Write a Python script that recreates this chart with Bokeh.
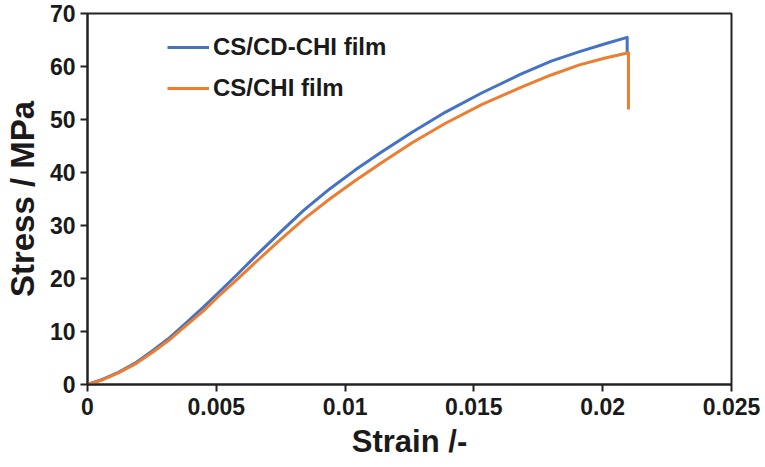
from bokeh.plotting import figure
from bokeh.models import FixedTicker, Legend, LegendItem, Range1d
from bokeh.embed import file_html
from bokeh.resources import INLINE

# Tensile test curves: strain (-) vs. stress (MPa)
strain_cd = [0, 0.0006, 0.0012, 0.0019, 0.0025, 0.0032, 0.0038, 0.0045, 0.0051,
             0.0058, 0.0066, 0.0075, 0.0084, 0.0094, 0.0104, 0.0114, 0.0126,
             0.0139, 0.0153, 0.0168, 0.0180, 0.0191, 0.0201, 0.02095, 0.02095]
stress_cd = [0, 1.0, 2.3, 4.2, 6.3, 8.9, 11.5, 14.6, 17.4,
             20.7, 24.6, 28.8, 32.9, 36.9, 40.5, 43.8, 47.6,
             51.4, 55.0, 58.5, 61.0, 62.8, 64.3, 65.5, 62.6]

strain_chi = [0, 0.0006, 0.0012, 0.0019, 0.0025, 0.0032, 0.0038, 0.0045, 0.0051,
              0.0058, 0.0066, 0.0075, 0.0084, 0.0094, 0.0104, 0.0114, 0.0126,
              0.0139, 0.0153, 0.0168, 0.0180, 0.0191, 0.0201, 0.0210, 0.0210]
stress_chi = [0, 0.9, 2.2, 4.0, 6.0, 8.5, 11.0, 13.9, 16.7,
              19.8, 23.4, 27.4, 31.2, 35.0, 38.5, 41.8, 45.6,
              49.3, 52.8, 56.0, 58.4, 60.3, 61.6, 62.6, 51.9]

series_names = ["CS/CD-CHI film", "CS/CHI film"]
x_ticks = [0, 0.005, 0.01, 0.015, 0.02, 0.025]
x_tick_labels = ["0", "0.005", "0.01", "0.015", "0.02", "0.025"]
y_ticks = [0, 10, 20, 30, 40, 50, 60, 70]

FONT = "Liberation Sans"

p = figure(width=765, height=467, frame_width=644, frame_height=371,
           min_border_left=87, min_border_right=34, min_border_top=13,
           min_border_bottom=83, output_backend="svg", toolbar_location=None,
           x_range=Range1d(0, 0.025), y_range=Range1d(0, 70))

p.background_fill_color = "white"
p.border_fill_color = "white"
p.outline_line_color = "#222222"
p.outline_line_width = 2
p.grid.visible = False

r_cd = p.line(strain_cd, stress_cd, line_color="#4472C4", line_width=3,
              line_join="round")
r_chi = p.line(strain_chi, stress_chi, line_color="#ED7D31", line_width=3,
               line_join="round")

for ax in (p.xaxis[0], p.yaxis[0]):
    ax.axis_line_color = "#222222"
    ax.axis_line_width = 2
    ax.major_tick_line_color = "#222222"
    ax.major_tick_line_width = 2
    ax.major_tick_out = 7
    ax.major_tick_in = 0
    ax.minor_tick_line_color = None
    ax.major_label_text_font = FONT
    ax.major_label_text_font_style = "bold"
    ax.major_label_text_font_size = "23px"
    ax.major_label_text_color = "#1a1a1a"
    ax.axis_label_text_font = FONT
    ax.axis_label_text_font_style = "bold"
    ax.axis_label_text_color = "#1a1a1a"

p.xaxis.ticker = FixedTicker(ticks=x_ticks)
p.xaxis.major_label_overrides = {t: s for t, s in zip(x_ticks, x_tick_labels)}
p.xaxis.axis_label = "Strain /-"
p.xaxis.axis_label_text_font_size = "31px"
p.xaxis.major_label_standoff = 6
p.xaxis.axis_label_standoff = 6

p.yaxis.ticker = FixedTicker(ticks=y_ticks)
p.yaxis.axis_label = "Stress / MPa"
p.yaxis.axis_label_text_font_size = "33px"
p.yaxis.major_label_standoff = 5
p.yaxis.axis_label_standoff = 6

legend = Legend(items=[LegendItem(label=series_names[0], renderers=[r_cd]),
                       LegendItem(label=series_names[1], renderers=[r_chi])],
                location=(80, 282), orientation="vertical")
legend.background_fill_alpha = 0
legend.border_line_color = None
legend.label_text_font = FONT
legend.label_text_font_style = "bold"
legend.label_text_font_size = "24px"
legend.label_text_color = "#1a1a1a"
legend.glyph_width = 42
legend.glyph_height = 24
legend.label_standoff = 4
legend.spacing = 13
legend.padding = 0
legend.margin = 0
p.add_layout(legend)

open("out.html", "w").write(file_html(p, INLINE))
